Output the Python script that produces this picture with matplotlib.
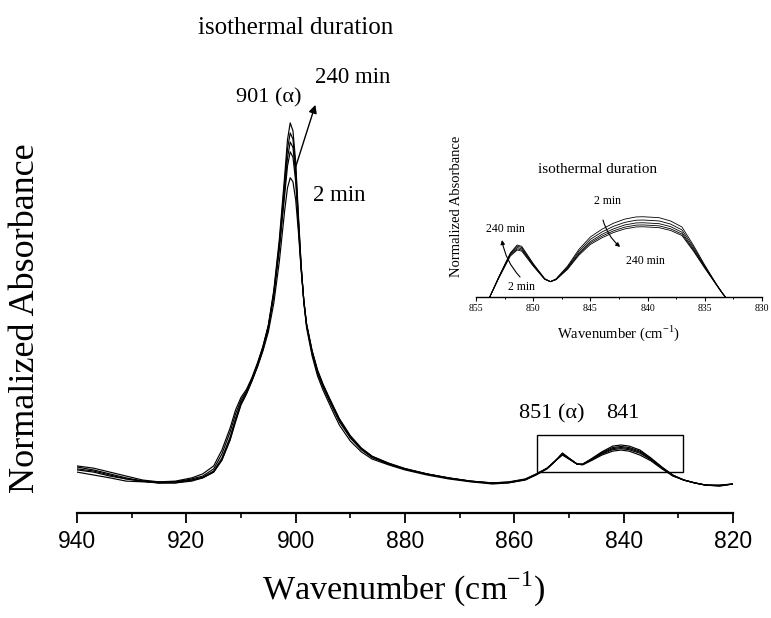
import numpy as np
import matplotlib.pyplot as plt
from matplotlib.patches import Rectangle

# FTIR spectra, 940-820 cm-1, normalized absorbance for five isothermal durations
wavenumber = [940, 937, 934, 931, 928, 925, 922, 919, 917, 915, 913.5, 912, 911, 910, 909,
              908, 907, 906, 905, 904, 903, 902, 901.5, 901, 900.5, 900, 899.5, 899, 898.5,
              898, 897, 896, 895, 894, 893, 892, 890, 888, 886, 883, 880, 876, 872, 868,
              864, 861, 858, 856, 854, 852.5, 851.2, 850, 848.5, 847.5, 846, 844, 842, 840.5,
              839, 837, 835, 833, 831, 829, 827, 825, 822.5, 820]

abs_240min = [0.033, 0.025, 0.017, 0.008, 0.006, 0.003, 0.006, 0.014, 0.022, 0.042, 0.083, 0.144,
              0.194, 0.233, 0.258, 0.291, 0.332, 0.380, 0.440, 0.537, 0.676, 0.856, 0.953, 1.000,
              0.978, 0.892, 0.745, 0.607, 0.501, 0.432, 0.355, 0.299, 0.260, 0.227, 0.194, 0.163,
              0.119, 0.089, 0.069, 0.053, 0.039, 0.025, 0.014, 0.006, 0.000, 0.003, 0.011, 0.025,
              0.042, 0.064, 0.086, 0.072, 0.055, 0.053, 0.064, 0.080, 0.091, 0.094, 0.091, 0.080,
              0.064, 0.042, 0.022, 0.011, 0.003, -0.003, -0.006, 0.000]

abs_b = [0.047, 0.039, 0.028, 0.017, 0.008, 0.003, 0.003, 0.011, 0.019, 0.036, 0.072, 0.130,
         0.182, 0.226, 0.254, 0.288, 0.328, 0.375, 0.436, 0.530, 0.665, 0.838, 0.928, 0.972,
         0.955, 0.875, 0.735, 0.603, 0.505, 0.438, 0.362, 0.307, 0.268, 0.235, 0.203, 0.172,
         0.127, 0.095, 0.073, 0.055, 0.041, 0.027, 0.016, 0.008, 0.002, 0.004, 0.012, 0.026,
         0.043, 0.064, 0.084, 0.071, 0.055, 0.054, 0.066, 0.083, 0.095, 0.098, 0.095, 0.085,
         0.067, 0.044, 0.023, 0.011, 0.003, -0.003, -0.004, 0.000]

abs_c = [0.050, 0.044, 0.033, 0.022, 0.011, 0.006, 0.008, 0.017, 0.028, 0.050, 0.094, 0.155,
         0.205, 0.240, 0.262, 0.295, 0.335, 0.380, 0.438, 0.528, 0.655, 0.818, 0.903, 0.947,
         0.932, 0.858, 0.725, 0.600, 0.507, 0.443, 0.370, 0.316, 0.277, 0.244, 0.212, 0.181,
         0.134, 0.100, 0.077, 0.058, 0.043, 0.028, 0.016, 0.007, 0.002, 0.004, 0.012, 0.027,
         0.043, 0.064, 0.083, 0.070, 0.055, 0.054, 0.067, 0.085, 0.098, 0.101, 0.098, 0.088,
         0.069, 0.045, 0.024, 0.011, 0.003, -0.003, -0.005, 0.000]

abs_d = [0.042, 0.036, 0.025, 0.014, 0.008, 0.003, 0.003, 0.008, 0.017, 0.033, 0.066, 0.122,
         0.175, 0.222, 0.251, 0.286, 0.325, 0.371, 0.430, 0.520, 0.648, 0.802, 0.880, 0.920,
         0.905, 0.838, 0.712, 0.597, 0.506, 0.442, 0.368, 0.313, 0.274, 0.241, 0.210, 0.179,
         0.131, 0.098, 0.076, 0.057, 0.042, 0.028, 0.017, 0.008, 0.003, 0.005, 0.013, 0.027,
         0.044, 0.064, 0.082, 0.070, 0.055, 0.055, 0.068, 0.087, 0.101, 0.104, 0.101, 0.091,
         0.070, 0.046, 0.024, 0.011, 0.003, -0.003, -0.004, 0.000]

abs_2min = [0.039, 0.033, 0.022, 0.014, 0.008, 0.006, 0.006, 0.011, 0.017, 0.033, 0.066, 0.122,
            0.172, 0.219, 0.249, 0.285, 0.324, 0.368, 0.421, 0.501, 0.615, 0.759, 0.820, 0.848,
            0.837, 0.787, 0.698, 0.593, 0.504, 0.440, 0.366, 0.310, 0.271, 0.238, 0.208, 0.177,
            0.130, 0.097, 0.075, 0.055, 0.042, 0.028, 0.017, 0.008, 0.003, 0.006, 0.014, 0.028,
            0.044, 0.064, 0.080, 0.069, 0.055, 0.055, 0.069, 0.089, 0.105, 0.108, 0.105, 0.094,
            0.072, 0.047, 0.025, 0.011, 0.003, -0.003, -0.003, 0.000]

# zoomed 855-830 cm-1 region (baseline corrected)
inset_wn = [853.8, 853, 852, 851.4, 851, 850, 849, 848.5, 848, 847, 846, 845, 844, 843, 842,
            841, 840.4, 839, 838, 837, 836, 835, 834, 833.5, 833.2]

inset_2min = [0, 0.105, 0.225, 0.258, 0.252, 0.170, 0.098, 0.084, 0.100, 0.170, 0.262, 0.330,
              0.372, 0.405, 0.428, 0.440, 0.441, 0.436, 0.418, 0.385, 0.285, 0.175, 0.072, 0.025, 0]
inset_b = [0, 0.107, 0.230, 0.265, 0.258, 0.173, 0.098, 0.084, 0.098, 0.165, 0.252, 0.317,
           0.357, 0.388, 0.410, 0.422, 0.423, 0.418, 0.401, 0.369, 0.275, 0.170, 0.071, 0.025, 0]
inset_c = [0, 0.109, 0.235, 0.272, 0.265, 0.176, 0.099, 0.084, 0.097, 0.160, 0.243, 0.305,
           0.344, 0.374, 0.396, 0.407, 0.408, 0.403, 0.387, 0.356, 0.266, 0.166, 0.070, 0.024, 0]
inset_d = [0, 0.110, 0.238, 0.280, 0.272, 0.180, 0.100, 0.085, 0.096, 0.156, 0.236, 0.297,
           0.334, 0.363, 0.384, 0.395, 0.396, 0.391, 0.375, 0.346, 0.259, 0.162, 0.069, 0.024, 0]
inset_240min = [0, 0.112, 0.242, 0.286, 0.278, 0.184, 0.101, 0.085, 0.095, 0.152, 0.230, 0.289,
                0.325, 0.354, 0.374, 0.385, 0.386, 0.381, 0.366, 0.338, 0.253, 0.158, 0.068, 0.023, 0]

main_ticks = [940, 920, 900, 880, 860, 840, 820]
inset_ticks = [855, 850, 845, 840, 835, 830]

serif = 'Liberation Serif'
sans = 'Liberation Sans'

fig = plt.figure(figsize=(7.71, 6.18), dpi=100)
ax = fig.add_axes([0.0999, 0.1699, 0.8508, 0.678])

for spec in [abs_240min, abs_b, abs_c, abs_d, abs_2min]:
    ax.plot(wavenumber, spec, color='black', lw=0.85)

ax.set_xlim(940, 820)
ax.set_ylim(-0.0803, 1.08)
for side in ['left', 'right', 'top']:
    ax.spines[side].set_visible(False)
ax.spines['bottom'].set_linewidth(1.6)
ax.set_yticks([])
ax.set_xticks(main_ticks)
ax.set_xticks([930, 910, 890, 870, 850, 830], minor=True)
ax.tick_params(axis='x', which='major', direction='out', length=7.5, width=1.3, pad=4.5,
               labelsize=16.5)
ax.tick_params(axis='x', which='minor', direction='out', length=3.5, width=1.2)
for lbl in ax.get_xticklabels():
    lbl.set_fontfamily(sans)

ax.set_xlabel('Wavenumber (cm$^{\\mathregular{-1}}$)', fontsize=24.5, family=serif)
ax.xaxis.set_label_coords(0.498, -0.136)
ax.set_ylabel('Normalized Absorbance', fontsize=26, family=serif)
ax.yaxis.set_label_coords(-0.053, 0.465)

ax.text(900.1, 1.263, 'isothermal duration', fontsize=18, family=serif, ha='center', va='center')
ax.text(905.0, 1.069, '901 (\u03b1)', fontsize=16, family=serif, ha='center', va='center')
ax.text(889.5, 1.127, '240 min', fontsize=16.5, family=serif, ha='center', va='center')
ax.text(892.0, 0.798, '2 min', fontsize=16.5, family=serif, ha='center', va='center')
ax.annotate('', xy=(896.4, 1.050), xytext=(900.07, 0.875),
            arrowprops=dict(arrowstyle='-|>', color='black', lw=1.0,
                            mutation_scale=12, shrinkA=0, shrinkB=0))

ax.text(853.2, 0.194, '851 (\u03b1)', fontsize=16, family=serif, ha='center', va='center')
ax.text(840.2, 0.194, '841', fontsize=16, family=serif, ha='center', va='center')
ax.add_patch(Rectangle((829.2, 0.033), 26.7, 0.103, fill=False, lw=1.0, edgecolor='black'))

# inset: enlarged 851/841 bands
ins = fig.add_axes([0.6174, 0.5194, 0.3709, 0.2945])
for spec in [inset_2min, inset_b, inset_c, inset_d, inset_240min]:
    ins.plot(inset_wn, spec, color='black', lw=0.6)
ins.set_xlim(855, 830)
ins.set_ylim(0, 1.0)
for side in ['left', 'right', 'top']:
    ins.spines[side].set_visible(False)
ins.spines['bottom'].set_linewidth(1.0)
ins.set_yticks([])
ins.set_xticks(inset_ticks)
ins.set_xticks([852.5, 847.5, 842.5, 837.5, 832.5], minor=True)
ins.tick_params(axis='x', which='major', direction='out', length=3, width=0.8, pad=2, labelsize=7)
ins.tick_params(axis='x', which='minor', direction='out', length=1.5, width=0.7)
for lbl in ins.get_xticklabels():
    lbl.set_fontfamily(serif)
ins.set_xlabel('Wavenumber (cm$^{\\mathregular{-1}}$)', fontsize=10.5, family=serif)
ins.xaxis.set_label_coords(0.497, -0.143)
ins.set_ylabel('Normalized Absorbance', fontsize=10.5, family=serif)
ins.yaxis.set_label_coords(-0.045, 0.5)

ins.text(844.4, 0.703, 'isothermal duration', fontsize=11, family=serif, ha='center', va='center')
ins.text(843.5, 0.527, '2 min', fontsize=8.5, family=serif, ha='center', va='center')
ins.text(852.4, 0.374, '240 min', fontsize=8.5, family=serif, ha='center', va='center')
ins.text(840.2, 0.198, '240 min', fontsize=8.5, family=serif, ha='center', va='center')
ins.text(851.0, 0.055, '2 min', fontsize=8.5, family=serif, ha='center', va='center')
ins.annotate('', xy=(852.73, 0.313), xytext=(851.15, 0.110),
             arrowprops=dict(arrowstyle='-|>', color='black', lw=0.8, mutation_scale=6,
                             shrinkA=0, shrinkB=0, connectionstyle='arc3,rad=-0.15'))
ins.annotate('', xy=(842.4, 0.275), xytext=(843.9, 0.423),
             arrowprops=dict(arrowstyle='-|>', color='black', lw=0.8, mutation_scale=6,
                             shrinkA=0, shrinkB=0, connectionstyle='arc3,rad=0.15'))

fig.savefig('out.png', dpi=100)
